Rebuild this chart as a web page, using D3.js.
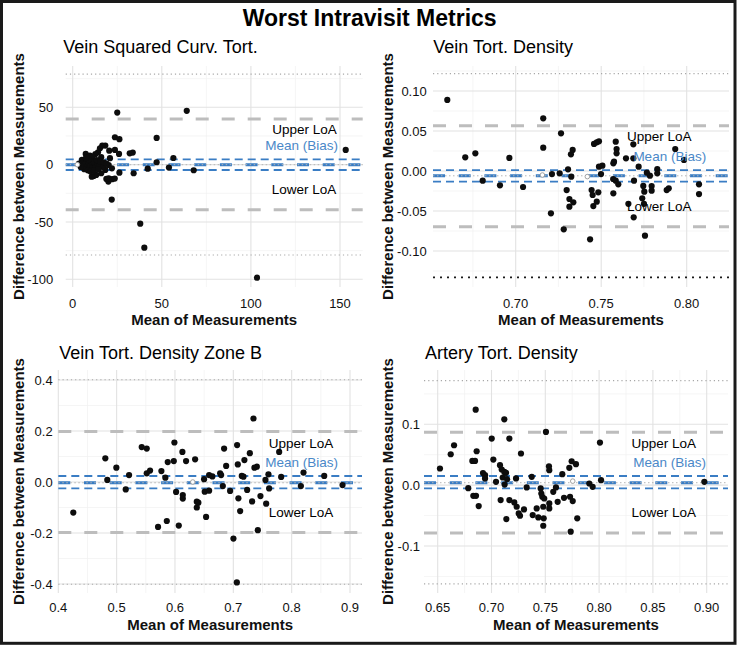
<!DOCTYPE html>
<html><head><meta charset="utf-8">
<script src="https://cdn.jsdelivr.net/npm/d3@7"></script>
<style>body{margin:0;background:#fff}svg{display:block}text{font-family:"Liberation Sans",Arial,sans-serif}</style>
</head><body><svg id="c" width="740" height="646"></svg>
<script>
// ---------------- DATA ----------------
const mainTitle = "Worst Intravisit Metrics";
const panelTitles = ["Vein Squared Curv. Tort.", "Vein Tort. Density", "Vein Tort. Density Zone B", "Artery Tort. Density"];
const xAxisTitle = "Mean of Measurements";
const yAxisTitle = "Difference between Measurements";
const annotLabels = ["Upper LoA", "Mean (Bias)", "Lower LoA"];

// Panel 1: Vein Squared Curv. Tort.
const p1Mean = [25.0,64.0,153.2,47.1,23.7,26.2,56.5,47.1,54.0,67.9,42.1,34.2,32.0,33.7,26.2,26.0,23.7,20.9,18.3,16.6,15.3,22.1,23.6,20.0,21.9,37.9,40.2,103.4,
  20.5,14.2,12.7,7.3,9.7,11.2,16.0,5.2,6.7,8.0,12.7,16.4,20.2,22.0,18.3,11.8,13.2,10.7,16.0,18.9,20.2,
  5.0,6.0,7.0,8.0,9.0,10.0,10.5,11.0,12.0,13.0,14.0,15.0,6.5,8.5,10.0,12.0,13.5,15.5,17.0,9.0,7.5,14.5,17.5,19.0,4.5,3.5];
const p1Diff = [45.4,46.9,12.8,23.3,23.9,22.2,5.8,2.1,-2.6,-4.9,-3.5,-7.5,9.9,10.5,-7.0,9.3,12.8,5.6,16.6,16.6,14.3,-12.7,-12.2,-14.8,-30.5,-51.5,-72.4,-98.6,
  12.2,10.8,9.1,9.3,7.9,7.0,6.5,4.1,3.2,2.6,-0.3,0.3,-0.3,-3.2,-4.6,-9.9,-9.0,-10.5,-7.5,-12.5,-11.9,
  1.0,-1.0,0.5,-2.0,1.5,-1.0,3.0,-3.0,2.0,-2.0,1.0,-1.0,-4.0,-5.0,-6.0,-5.0,4.0,3.0,-2.0,4.5,6.0,-4.0,2.0,1.0,-2.0,1.0];
const p1OpenMean = [2.6], p1OpenDiff = [0.0];
const p1Bias = [-0.06, 4.65, -4.68];     // bias, CI high, CI low
const p1LoA = [39.8, -39.3];
const p1Outer = [79.0, -78.8];
const p1XTicks = [0, 50, 100, 150], p1XLabels = ["0", "50", "100", "150"];
const p1YTicks = [-100, -50, 0, 50], p1YLabels = ["-100", "-50", "0", "50"];
const p1LabelX = [130.1, 128.5, 129.8], p1LabelY = [30.7, 17.1, -21.2];

// Panel 2: Vein Tort. Density
const p2Mean = [0.660,0.6705,0.6764,0.6807,0.6908,0.6963,0.7043,0.7161,0.7161,0.7212,0.7206,0.7265,0.7257,0.7281,0.7306,0.7298,0.7314,0.7314,0.7337,0.7323,0.7333,0.7325,
  0.7435,0.7444,0.7450,0.7454,0.7458,0.7474,0.7487,0.7483,0.7474,0.7487,0.7507,0.7499,0.7571,0.7575,0.7571,0.7585,0.7590,0.7590,0.7585,0.7600,0.7645,0.7688,0.7688,0.7719,0.7692,
  0.7659,0.7690,0.7746,0.7752,0.7740,0.7750,0.7756,0.7785,0.7795,0.7795,0.7828,0.7828,0.7883,0.7895,0.7933,0.7984,0.8072,0.8072,0.7570,0.7767];
const p2Diff = [0.0888,0.0171,0.0221,-0.0121,-0.0179,0.0163,-0.0200,0.0658,0.0292,-0.0038,-0.0529,0.0471,-0.0029,-0.0729,0.0021,-0.0238,-0.0350,-0.0446,-0.0392,0.0208,0.0263,-0.0071,
  -0.0854,-0.0238,-0.0300,-0.0438,0.0338,0.0358,0.0371,-0.0267,-0.0383,0.0054,0.0067,-0.0038,0.0096,0.0117,-0.0279,0.0367,0.0275,0.0221,-0.0121,-0.0167,0.0158,0.0333,0.0158,0.0054,-0.0121,
  -0.0410,-0.0579,-0.0187,-0.0258,-0.0342,-0.0410,-0.0808,-0.0058,-0.0188,-0.0246,0.0025,-0.0029,-0.0238,-0.0217,0.0275,0.0138,-0.0167,-0.0288,-0.0100,-0.0021];
const p2OpenMean = [0.7156, 0.7419], p2OpenDiff = [-0.005, -0.007];
const p2Bias = [-0.006, 0.001, -0.0134];
const p2LoA = [0.0566, -0.0696];
const p2Outer = [0.1216, -0.1329];
const p2XTicks = [0.70, 0.75, 0.80], p2XLabels = ["0.70", "0.75", "0.80"];
const p2YTicks = [-0.10, -0.05, 0, 0.05, 0.10], p2YLabels = ["-0.10", "-0.05", "0.00", "0.05", "0.10"];
const p2LabelX = [0.7839, 0.7901, 0.7839], p2LabelY = [0.0435, 0.0191, -0.0435];

// Panel 3: Vein Tort. Density Zone B
const p3Mean = [0.4257,0.4806,0.484,0.4995,0.5156,0.5213,0.543,0.5516,0.5516,0.5573,0.5767,0.5835,0.571,0.586,0.5876,0.598,0.599,0.6019,0.6065,0.6127,0.6134,0.6134,0.619,0.6345,
  0.6374,0.6374,0.6401,0.6499,0.651,0.6533,0.6585,0.6585,0.6641,0.6774,0.6791,0.682,0.6842,0.6877,0.6945,0.7002,0.7065,0.7077,0.7087,0.7117,0.7145,0.7174,0.719,0.7237,0.7283,
  0.7322,0.7345,0.7362,0.7403,0.742,0.7465,0.7563,0.7551,0.7602,0.7614,0.7786,0.782,0.8158,0.8203,0.8558,0.8872,0.706];
const p3Diff = [-0.120,0.093,0.008,0.056,-0.029,0.027,0.137,0.131,0.034,0.045,0.043,0.017,-0.176,-0.153,0.078,0.082,0.155,-0.039,-0.171,0.118,-0.051,-0.065,0.082,0.089,
  -0.077,-0.100,-0.081,0.011,-0.038,-0.137,-0.034,0.027,0.022,0.034,0.027,-0.016,0.131,0.063,-0.035,-0.222,0.145,0.069,-0.064,-0.114,0.024,0.021,0.086,-0.031,0.113,
  -0.076,0.249,0.056,0.060,-0.189,-0.055,-0.085,0.008,0.030,-0.025,0.118,0.020,-0.016,0.037,0.024,-0.012,-0.394];
const p3OpenMean = [0.6305], p3OpenDiff = [0.0];
const p3Bias = [-0.003, 0.0235, -0.0247];
const p3LoA = [0.198, -0.198];
const p3Outer = [0.401, -0.401];
const p3XTicks = [0.4, 0.5, 0.6, 0.7, 0.8, 0.9], p3XLabels = ["0.4", "0.5", "0.6", "0.7", "0.8", "0.9"];
const p3YTicks = [-0.4, -0.2, 0, 0.2, 0.4], p3YLabels = ["-0.4", "-0.2", "0.0", "0.2", "0.4"];
const p3LabelX = [0.816, 0.8172, 0.816], p3LabelY = [0.1537, 0.0776, -0.1196];

// Panel 4: Artery Tort. Density
const p4Mean = [0.6521,0.6621,0.6652,0.6784,0.6822,0.6847,0.6831,0.6856,0.6853,0.6862,0.6881,0.6921,0.694,0.694,0.7002,0.7017,0.7042,0.7079,0.7095,0.7085,0.7119,0.7119,0.7135,
  0.7122,0.7138,0.7166,0.7166,0.7212,0.7228,0.7234,0.7253,0.7265,0.7274,0.7302,0.7327,0.7374,0.7383,0.742,0.7435,0.7457,0.7463,0.7472,0.7481,0.7481,0.7485,0.749,0.7506,0.7534,
  0.7537,0.7537,0.7537,0.7574,0.7599,0.7615,0.7658,0.7674,0.7723,0.7745,0.773,0.7736,0.7755,0.7785,0.7797,0.7909,0.794,0.8008,0.8018,0.8978,0.7104,0.7145];
const p4Diff = [0.0274,0.0508,0.0656,-0.0049,0.0398,0.0398,-0.0175,-0.0175,0.124,0.0557,-0.0344,0.020,0.0164,0.011,0.0765,0.0421,0.0054,0.0328,0.0257,-0.0246,0.1082,0.0218,0.0202,
  0.001,-0.0557,0.0765,-0.0246,-0.0284,0.011,-0.0355,-0.0464,-0.0503,0.052,-0.0399,-0.0038,0.0137,-0.0492,-0.0383,-0.053,-0.0054,-0.0137,-0.0191,-0.0355,-0.0667,-0.0546,-0.0219,0.0874,0.0311,
  0.0246,-0.030,-0.0383,-0.011,-0.0038,-0.0274,0.018,-0.0208,0.0284,0.0393,-0.0191,-0.0765,-0.0262,0.0344,-0.0546,0.0027,-0.0027,0.070,0.0082,0.0054,0.0126,0.0098];
const p4OpenMean = [0.7755], p4OpenDiff = [0.0066];
const p4Bias = [0.004, 0.015, -0.0052];
const p4LoA = [0.0869, -0.0786];
const p4Outer = [0.1717, -0.1624];
const p4XTicks = [0.65, 0.70, 0.75, 0.80, 0.85, 0.90], p4XLabels = ["0.65", "0.70", "0.75", "0.80", "0.85", "0.90"];
const p4YTicks = [-0.1, 0, 0.1], p4YLabels = ["-0.1", "0.0", "0.1"];
const p4LabelX = [0.8601, 0.8656, 0.8601], p4LabelY = [0.0696, 0.0377, -0.0449];

// ---------------- LAYOUT ----------------
const panelData = [
  {mean:p1Mean, diff:p1Diff, om:p1OpenMean, od:p1OpenDiff, bias:p1Bias, loa:p1LoA, outer:p1Outer, xt:p1XTicks, xl:p1XLabels, yt:p1YTicks, yl:p1YLabels, lx:p1LabelX, ly:p1LabelY},
  {mean:p2Mean, diff:p2Diff, om:p2OpenMean, od:p2OpenDiff, bias:p2Bias, loa:p2LoA, outer:p2Outer, xt:p2XTicks, xl:p2XLabels, yt:p2YTicks, yl:p2YLabels, lx:p2LabelX, ly:p2LabelY},
  {mean:p3Mean, diff:p3Diff, om:p3OpenMean, od:p3OpenDiff, bias:p3Bias, loa:p3LoA, outer:p3Outer, xt:p3XTicks, xl:p3XLabels, yt:p3YTicks, yl:p3YLabels, lx:p3LabelX, ly:p3LabelY},
  {mean:p4Mean, diff:p4Diff, om:p4OpenMean, od:p4OpenDiff, bias:p4Bias, loa:p4LoA, outer:p4Outer, xt:p4XTicks, xl:p4XLabels, yt:p4YTicks, yl:p4YLabels, lx:p4LabelX, ly:p4LabelY}
];
const layout = [
  {x0:65.7, x1:362.7, y0:66, y1:287, xr:[72.7,340], yr:[279.3,107.3], titleX:63.3, titleY:52.7, yTitleX:23.5, ylabR:53.3, xlabY:307.5, xTitleY:325, darkBottom:false},
  {x0:433, x1:729, y0:66, y1:287, xr:[515.7,686.7], yr:[251,91], titleX:433.3, titleY:52.7, yTitleX:393, ylabR:426.7, xlabY:307.5, xTitleY:325, darkBottom:true},
  {x0:58.3, x1:362, y0:370, y1:593, xr:[58.3,350], yr:[584,380], titleX:59.3, titleY:359.3, yTitleX:23.5, ylabR:52.7, xlabY:611.5, xTitleY:630, darkBottom:false},
  {x0:424, x1:728, y0:370, y1:593, xr:[437.7,706.7], yr:[546,424.3], titleX:425, titleY:359.3, yTitleX:393, ylabR:420, xlabY:611.5, xTitleY:630, darkBottom:false}
];

const BLUE = "#3a7dc4";
const svg = d3.select("#c");
svg.append("rect").attr("width",740).attr("height",646).attr("fill","#fff");

svg.append("text").attr("x",369.7).attr("y",26).attr("text-anchor","middle")
  .attr("font-size",23).attr("font-weight","bold").attr("fill","#000").text(mainTitle);

function minorTicks(t, lo, hi){
  const step = t[1]-t[0], out=[];
  for(let i=-1;i<t.length;i++){ const v = (i<0? t[0]-step/2 : t[i]+step/2); if(v>=lo && v<=hi) out.push(v); }
  return out;
}

panelData.forEach((P,i)=>{
  const L = layout[i];
  const x = d3.scaleLinear().domain([P.xt[0], P.xt[P.xt.length-1]]).range(L.xr);
  const y = d3.scaleLinear().domain([P.yt[0], P.yt[P.yt.length-1]]).range(L.yr);
  const g = svg.append("g");
  const xlo = x.invert(L.x0), xhi = x.invert(L.x1);
  const ylo = y.invert(L.y1), yhi = y.invert(L.y0);

  // grid
  minorTicks(P.xt, xlo, xhi).forEach(v=>g.append("line").attr("x1",x(v)).attr("x2",x(v)).attr("y1",L.y0).attr("y2",L.y1).attr("stroke","#f0f0f0").attr("stroke-width",0.7));
  minorTicks(P.yt, ylo, yhi).forEach(v=>g.append("line").attr("y1",y(v)).attr("y2",y(v)).attr("x1",L.x0).attr("x2",L.x1).attr("stroke","#f0f0f0").attr("stroke-width",0.7));
  P.xt.forEach(v=>g.append("line").attr("x1",x(v)).attr("x2",x(v)).attr("y1",L.y0).attr("y2",L.y1).attr("stroke","#e2e2e2").attr("stroke-width",1.1));
  P.yt.forEach(v=>g.append("line").attr("y1",y(v)).attr("y2",y(v)).attr("x1",L.x0).attr("x2",L.x1).attr("stroke","#e2e2e2").attr("stroke-width",1.1));

  const hline = (v, stroke, w, dash, off) => g.append("line").attr("x1",L.x0).attr("x2",L.x1).attr("y1",y(v)).attr("y2",y(v))
      .attr("stroke",stroke).attr("stroke-width",w).attr("stroke-dasharray",dash).attr("stroke-dashoffset",off||0);

  // outer dotted
  hline(P.outer[0], "#a8a8a8", 1.2, "1.2,3");
  if(L.darkBottom) hline(P.outer[1], "#1a1a1a", 1.8, "2,5");
  else hline(P.outer[1], "#a8a8a8", 1.2, "1.2,3");
  // LoA
  P.loa.forEach(v=>hline(v, "#bdbdbd", 3, "13,13"));
  // CI of bias
  hline(P.bias[1], BLUE, 1.8, "8,5");
  hline(P.bias[2], BLUE, 1.8, "8,5");
  // bias
  hline(P.bias[0], BLUE, 3, "12,13.7");
  hline(P.bias[0], "#b5b5b5", 1, "1.5,2.5");

  // points
  g.selectAll("circle.pt").data(P.mean.map((m,k)=>[m,P.diff[k]])).join("circle")
    .attr("class","pt").attr("cx",d=>x(d[0])).attr("cy",d=>y(d[1])).attr("r",3.1).attr("fill","#0d0d0d");
  g.selectAll("circle.op").data(P.om.map((m,k)=>[m,P.od[k]])).join("circle")
    .attr("class","op").attr("cx",d=>x(d[0])).attr("cy",d=>y(d[1])).attr("r",2.3).attr("fill","#fff").attr("stroke","#999").attr("stroke-width",0.9);

  // annotations
  annotLabels.forEach((t,k)=>{
    g.append("text").attr("x",x(P.lx[k])).attr("y",y(P.ly[k])).attr("dy","0.36em").attr("text-anchor","middle")
      .attr("font-size",13.5).attr("fill", k===1 ? "#4a88c8" : "#000").text(t);
  });

  // tick labels
  P.xt.forEach((v,k)=>g.append("text").attr("x",x(v)).attr("y",L.xlabY).attr("text-anchor","middle").attr("font-size",13).attr("fill","#111").text(P.xl[k]));
  P.yt.forEach((v,k)=>g.append("text").attr("x",L.ylabR).attr("y",y(v)).attr("dy","0.36em").attr("text-anchor","end").attr("font-size",13).attr("fill","#111").text(P.yl[k]));

  // titles
  g.append("text").attr("x",L.titleX).attr("y",L.titleY).attr("font-size",18).attr("fill","#000").text(panelTitles[i]);
  g.append("text").attr("x",(L.x0+L.x1)/2).attr("y",L.xTitleY).attr("text-anchor","middle").attr("font-size",15).attr("font-weight","bold").attr("fill","#111").text(xAxisTitle);
  g.append("text").attr("transform",`translate(${L.yTitleX},${(L.y0+L.y1)/2}) rotate(-90)`).attr("text-anchor","middle")
    .attr("font-size",15).attr("font-weight","bold").attr("fill","#111").text(yAxisTitle);
});

// outer frame
svg.append("rect").attr("x",1.5).attr("y",1.5).attr("width",733.5).attr("height",641.8)
  .attr("fill","none").attr("stroke","#1a1a1a").attr("stroke-width",3);
</script></body></html>
